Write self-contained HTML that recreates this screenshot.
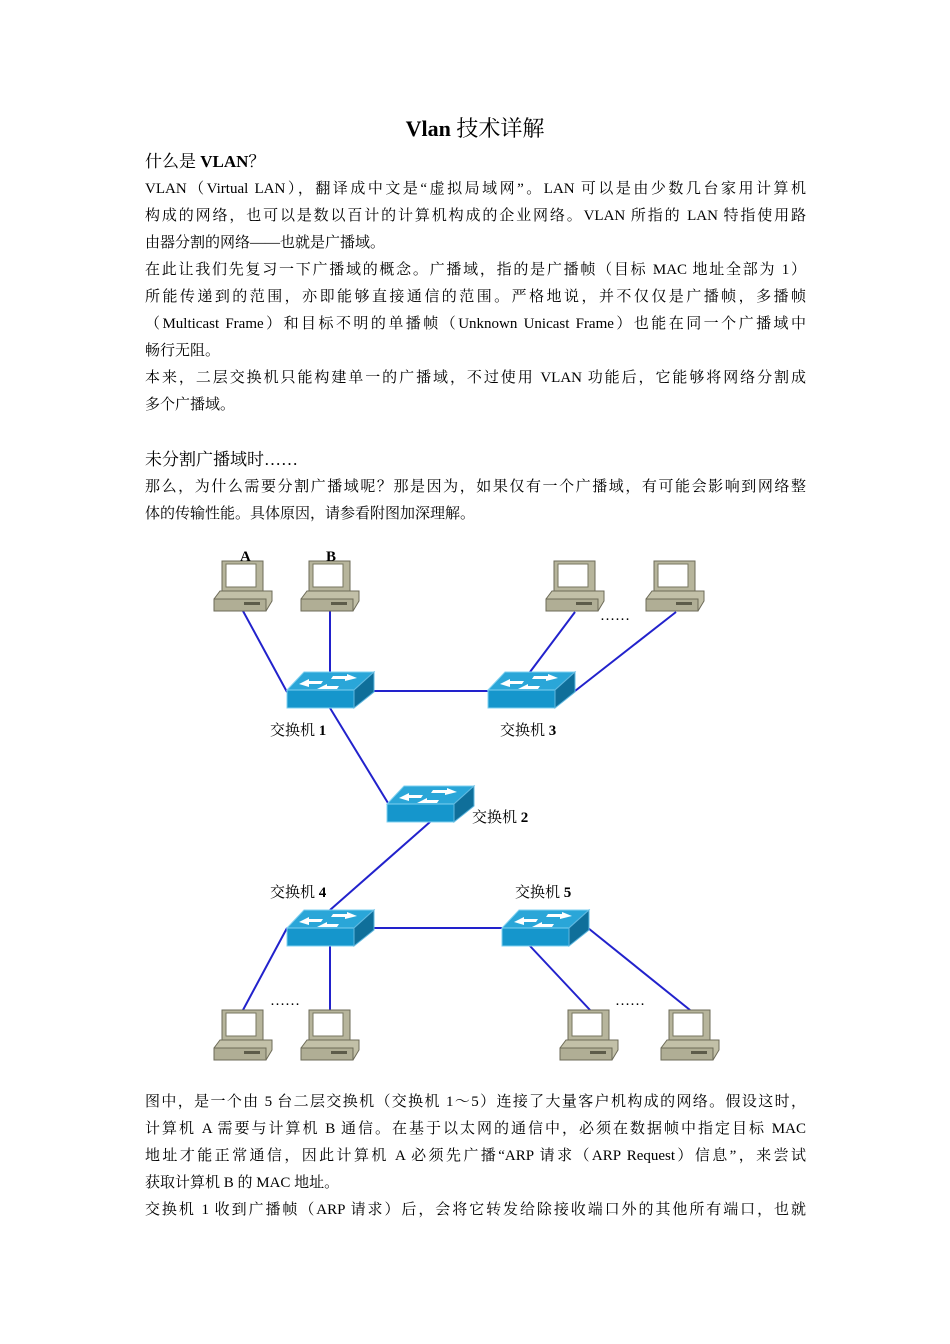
<!DOCTYPE html>
<html><head><meta charset="utf-8"><style>
body{margin:0;background:#fff;}
#p{position:relative;width:950px;height:1344px;overflow:hidden;font-family:"Liberation Serif","Noto Serif CJK SC",serif;color:#000;}
.l{position:absolute;left:145px;width:661px;font-size:15px;line-height:20px;white-space:nowrap;}
.j{text-align:justify;text-align-last:justify;white-space:normal;}
.h{position:absolute;left:145px;font-size:17px;}
.t{font-family:"Liberation Serif","Noto Serif CJK SC",serif;font-size:15px;}
</style></head><body><div id="p">
<div style="position:absolute;left:0;width:950px;top:112px;text-align:center;font-size:22px;"><b>Vlan</b> 技术详解</div>
<div class="h" style="top:147px">什么是 <b>VLAN</b>？</div>
<div class="l j" style="top:179px">VLAN（Virtual LAN），翻译成中文是“虚拟局域网”。LAN 可以是由少数几台家用计算机</div>
<div class="l j" style="top:206px">构成的网络，也可以是数以百计的计算机构成的企业网络。VLAN 所指的 LAN 特指使用路</div>
<div class="l" style="top:233px">由器分割的网络——也就是广播域。</div>
<div class="l j" style="top:260px">在此让我们先复习一下广播域的概念。广播域，指的是广播帧（目标 MAC 地址全部为 1）</div>
<div class="l j" style="top:287px">所能传递到的范围，亦即能够直接通信的范围。严格地说，并不仅仅是广播帧，多播帧</div>
<div class="l j" style="top:314px">（Multicast Frame）和目标不明的单播帧（Unknown Unicast Frame）也能在同一个广播域中</div>
<div class="l" style="top:341px">畅行无阻。</div>
<div class="l j" style="top:368px">本来，二层交换机只能构建单一的广播域，不过使用 VLAN 功能后，它能够将网络分割成</div>
<div class="l" style="top:395px">多个广播域。</div>
<div class="h" style="top:445px">未分割广播域时……</div>
<div class="l j" style="top:477px">那么，为什么需要分割广播域呢？那是因为，如果仅有一个广播域，有可能会影响到网络整</div>
<div class="l" style="top:504px">体的传输性能。具体原因，请参看附图加深理解。</div>

<svg style="position:absolute;left:0;top:0" width="950" height="1344">
<defs>
<g id="pc">
<rect x="8" y="0" width="41" height="30" fill="#b7b59c" stroke="#6d6b58" stroke-width="1"/>
<rect x="12" y="3" width="30" height="23" fill="#fff" stroke="#77765f"/>
<polygon points="0,38 6,30 58,30 58,40 52,50 0,50" fill="#c2c0a8" stroke="#6d6b58"/>
<rect x="0" y="38" width="52" height="12" fill="#b0ae95" stroke="#6d6b58"/>
<rect x="30" y="41" width="16" height="3" fill="#5d5c4a"/>
</g>
<g id="sw">
<polygon points="0,18 17,0 87,0 67,18" fill="#2aa6d8" stroke="#7fd0f0"/>
<rect x="0" y="18" width="67" height="18" fill="#1596cc" stroke="#7fd0f0"/>
<polygon points="67,18 87,0 87,20 67,36" fill="#0f6f9a" stroke="#5fb8e0"/>
<polygon points="12,12 22,7 22,9 36,9 34,12 22,12 22,15" fill="#fff"/>
<polygon points="70,6 60,2 60,4 46,4 44,7 58,7 58,9" fill="#fff"/>
<polygon points="30,17 40,12 40,14 52,14 50,17" fill="#fff"/>
</g>
</defs>
<g stroke="#2222cc" stroke-width="2" fill="none">
<line x1="243" y1="611" x2="287" y2="692"/>
<line x1="330" y1="611" x2="330" y2="672"/>
<line x1="372" y1="691" x2="489" y2="691"/>
<line x1="575" y1="612" x2="530" y2="672"/>
<line x1="676" y1="612" x2="575" y2="691"/>
<line x1="330" y1="708" x2="388" y2="803"/>
<line x1="430" y1="822" x2="330" y2="910"/>
<line x1="372" y1="928" x2="502" y2="928"/>
<line x1="287" y1="928" x2="243" y2="1010"/>
<line x1="330" y1="946" x2="330" y2="1010"/>
<line x1="530" y1="946" x2="590" y2="1010"/>
<line x1="588" y1="928" x2="690" y2="1010"/>
</g>
<use href="#pc" x="214" y="561"/>
<use href="#pc" x="301" y="561"/>
<use href="#pc" x="546" y="561"/>
<use href="#pc" x="646" y="561"/>
<use href="#pc" x="214" y="1010"/>
<use href="#pc" x="301" y="1010"/>
<use href="#pc" x="560" y="1010"/>
<use href="#pc" x="661" y="1010"/>
<use href="#sw" x="287" y="672"/>
<use href="#sw" x="488" y="672"/>
<use href="#sw" x="387" y="786"/>
<use href="#sw" x="287" y="910"/>
<use href="#sw" x="502" y="910"/>
<g class="t">
<text x="240" y="561" font-weight="bold">A</text>
<text x="326" y="561" font-weight="bold">B</text>
<text x="600" y="620">……</text>
<text x="270" y="1005">……</text>
<text x="615" y="1005">……</text>
<text x="270" y="735">交换机 <tspan font-weight="bold">1</tspan></text>
<text x="500" y="735">交换机 <tspan font-weight="bold">3</tspan></text>
<text x="472" y="822">交换机 <tspan font-weight="bold">2</tspan></text>
<text x="270" y="897">交换机 <tspan font-weight="bold">4</tspan></text>
<text x="515" y="897">交换机 <tspan font-weight="bold">5</tspan></text>
</g>
</svg>

<div class="l j" style="top:1092px">图中，是一个由 5 台二层交换机（交换机 1～5）连接了大量客户机构成的网络。假设这时，</div>
<div class="l j" style="top:1119px">计算机 A 需要与计算机 B 通信。在基于以太网的通信中，必须在数据帧中指定目标 MAC</div>
<div class="l j" style="top:1146px">地址才能正常通信，因此计算机 A 必须先广播“ARP 请求（ARP Request）信息”，来尝试</div>
<div class="l" style="top:1173px">获取计算机 B 的 MAC 地址。</div>
<div class="l j" style="top:1200px">交换机 1 收到广播帧（ARP 请求）后，会将它转发给除接收端口外的其他所有端口，也就</div>
</div></body></html>
